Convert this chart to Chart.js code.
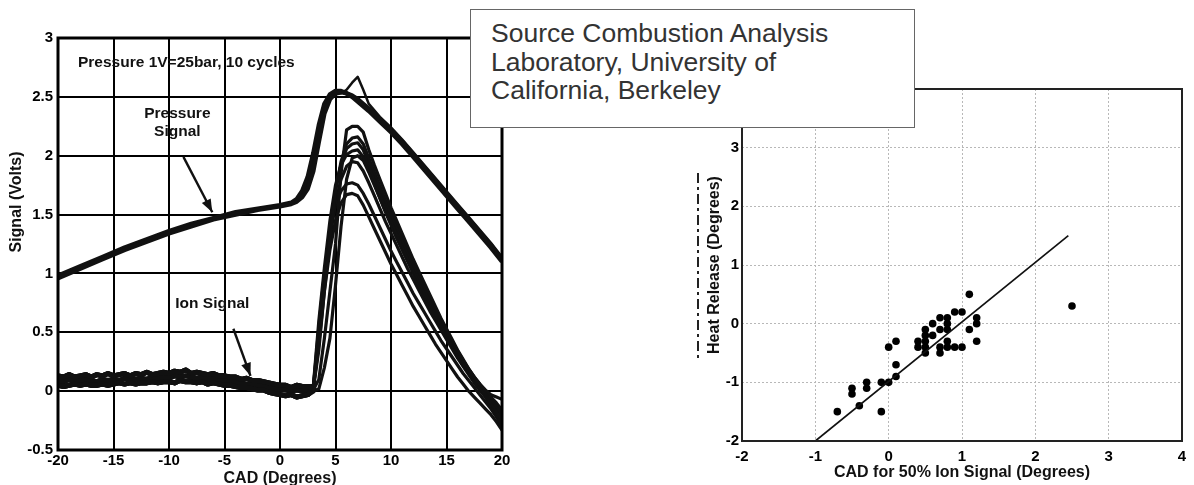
<!DOCTYPE html>
<html><head><meta charset="utf-8">
<script src="https://cdn.jsdelivr.net/npm/chart.js@4/dist/chart.umd.min.js"></script>
<style>
html,body{margin:0;padding:0;background:#fff;width:1194px;height:485px;overflow:hidden;}
#left{position:absolute;left:0;top:0;}
#right{position:absolute;left:660px;top:0;}
#note{position:absolute;left:470px;top:9px;width:445px;height:119px;box-sizing:border-box;border:1px solid #666;background:#fff;color:#333;font-family:'Liberation Sans',Arial,sans-serif;font-size:26.5px;line-height:28.5px;padding:9px 0 0 20px;z-index:5;white-space:nowrap;}
</style></head>
<body>
<canvas id="left" width="520" height="485"></canvas>
<canvas id="right" width="534" height="485"></canvas>
<div id="note">Source Combustion Analysis<br>Laboratory, University of<br>California, Berkeley</div>
<script>
// ---------- Left chart data (CAD degrees vs signal volts) ----------
const leftXTicks = [-20,-15,-10,-5,0,5,10,15,20];
const leftXTickLabels = ['-20','-15','-10','-5','0','5','10','15','20'];
const leftYTicks = [-0.5,0,0.5,1,1.5,2,2.5,3];
const leftYTickLabels = ['-0.5','0','0.5','1','1.5','2','2.5','3'];

const presX = [-20,-18,-16,-14,-12,-10,-8,-6,-4,-2,0,1,1.5,2,2.5,3,3.5,4,4.5,5,5.5,6,6.5,7,7.5,8,9,10,11,12,13,14,15,16,17,18,19,20];
const pressure1 = [0.96,1.04,1.12,1.2,1.27,1.34,1.4,1.46,1.5,1.54,1.57,1.59,1.61,1.65,1.72,1.87,2.12,2.36,2.48,2.53,2.54,2.53,2.51,2.48,2.44,2.4,2.31,2.22,2.12,2.01,1.9,1.79,1.68,1.57,1.46,1.35,1.24,1.12];
const pressure2 = [0.98,1.06,1.14,1.22,1.29,1.36,1.42,1.47,1.52,1.55,1.58,1.6,1.63,1.7,1.82,2.02,2.26,2.44,2.52,2.55,2.55,2.53,2.5,2.46,2.42,2.38,2.29,2.2,2.1,1.99,1.88,1.77,1.66,1.55,1.44,1.33,1.22,1.1];
const pressure3 = [0.97,1.05,1.13,1.21,1.28,1.35,1.41,1.47,1.51,1.55,1.58,1.6,1.62,1.67,1.76,1.94,2.2,2.4,2.49,2.52,2.53,2.56,2.62,2.67,2.56,2.44,2.33,2.24,2.14,2.03,1.92,1.81,1.7,1.59,1.48,1.37,1.26,1.14];

const baseX = [-20,-19.5,-19,-18.5,-18,-17.5,-17,-16.5,-16,-15.5,-15,-14.5,-14,-13.5,-13,-12.5,-12,-11.5,-11,-10.5,-10,-9.5,-9,-8.5,-8,-7.5,-7,-6.5,-6,-5.5,-5,-4.5,-4,-3.5,-3,-2.5,-2,-1.5,-1,-0.5,0,0.5,1,1.5,2,2.5];
const ionBaseA = [0.13,0.12,0.14,0.12,0.13,0.14,0.12,0.14,0.13,0.15,0.13,0.14,0.15,0.13,0.15,0.14,0.16,0.14,0.15,0.16,0.15,0.17,0.16,0.18,0.15,0.16,0.15,0.14,0.15,0.13,0.13,0.12,0.12,0.1,0.11,0.09,0.09,0.08,0.07,0.06,0.05,0.05,0.03,0.05,0.04,0.04];
const ionBaseB = [0.05,0.04,0.05,0.06,0.05,0.06,0.05,0.05,0.06,0.05,0.06,0.07,0.06,0.07,0.06,0.07,0.07,0.08,0.07,0.08,0.08,0.07,0.09,0.08,0.08,0.07,0.08,0.06,0.07,0.06,0.05,0.05,0.04,0.03,0.03,0.02,0.01,0.01,-0.01,-0.02,-0.03,-0.04,-0.03,-0.05,-0.04,-0.03];
const ionBaseC = [0.09,0.08,0.1,0.08,0.09,0.1,0.09,0.08,0.1,0.09,0.1,0.09,0.11,0.1,0.1,0.11,0.1,0.12,0.11,0.12,0.11,0.13,0.12,0.13,0.12,0.11,0.12,0.1,0.11,0.09,0.09,0.08,0.08,0.07,0.06,0.06,0.05,0.04,0.03,0.02,0.01,0.01,0.0,0.01,0.0,0.01];

const burnX = [3,3.5,4,4.5,5,5.5,6,6.5,7,7.5,8,8.5,9,9.5,10,10.5,11,11.5,12,12.5,13,13.5,14,14.5,15,15.5,16,16.5,17,17.5,18,18.5,19,19.5,20];
const ionBurn1 = [0.01,0.1,0.45,0.85,1.25,1.85,2.22,2.25,2.25,2.2,2.05,1.92,1.8,1.68,1.56,1.45,1.34,1.23,1.12,1.02,0.92,0.82,0.72,0.62,0.53,0.44,0.35,0.27,0.19,0.12,0.06,0.01,-0.03,-0.05,-0.07];
const ionBurn2 = [0.02,0.35,0.85,1.3,1.7,1.95,2.1,2.15,2.16,2.1,1.98,1.86,1.74,1.62,1.51,1.4,1.29,1.18,1.08,0.98,0.88,0.78,0.69,0.6,0.51,0.42,0.34,0.26,0.18,0.11,0.05,0.0,-0.05,-0.1,-0.16];
const ionBurn3 = [0.03,0.5,0.95,1.35,1.7,1.93,2.06,2.1,2.11,2.05,1.93,1.81,1.69,1.57,1.46,1.35,1.24,1.14,1.04,0.94,0.84,0.75,0.66,0.57,0.48,0.4,0.32,0.24,0.16,0.09,0.03,-0.02,-0.07,-0.13,-0.2];
const ionBurn4 = [0.04,0.6,1.05,1.45,1.75,1.92,2.01,2.04,2.05,1.99,1.88,1.76,1.64,1.52,1.41,1.3,1.2,1.1,1.0,0.9,0.81,0.72,0.63,0.54,0.46,0.38,0.3,0.22,0.15,0.08,0.02,-0.04,-0.1,-0.17,-0.25];
const ionBurn5 = [0.02,0.45,0.9,1.3,1.6,1.8,1.91,1.95,1.94,1.87,1.77,1.66,1.55,1.44,1.34,1.24,1.14,1.04,0.95,0.86,0.77,0.68,0.6,0.52,0.44,0.36,0.28,0.21,0.14,0.07,0.01,-0.05,-0.12,-0.2,-0.28];
const ionBurn6 = [0.03,0.55,1.0,1.35,1.58,1.7,1.76,1.77,1.75,1.68,1.59,1.49,1.39,1.29,1.19,1.1,1.01,0.92,0.83,0.75,0.67,0.59,0.51,0.43,0.36,0.29,0.22,0.15,0.09,0.03,-0.03,-0.09,-0.15,-0.22,-0.3];
const ionBurn7 = [0.02,0.4,0.85,1.2,1.45,1.6,1.67,1.68,1.66,1.58,1.48,1.38,1.28,1.18,1.08,0.99,0.9,0.81,0.72,0.64,0.56,0.48,0.4,0.33,0.26,0.19,0.12,0.06,0.0,-0.05,-0.1,-0.15,-0.2,-0.26,-0.33];
const ionBurn8 = [0.0,0.02,0.2,0.45,0.9,1.4,1.8,1.98,2.0,1.96,1.86,1.75,1.64,1.53,1.43,1.33,1.23,1.13,1.03,0.94,0.85,0.76,0.67,0.58,0.5,0.42,0.34,0.26,0.19,0.12,0.06,0.0,-0.06,-0.13,-0.21];

// ---------- Right chart data ----------
const rightXTicks = [-2,-1,0,1,2,3,4];
const rightXTickLabels = ['-2','-1','0','1','2','3','4'];
const rightYTicks = [-2,-1,0,1,2,3,4];
const rightYTickLabels = ['-2','-1','0','1','2','3','4'];
const ionCad50 = [-0.7,-0.5,-0.5,-0.4,-0.3,-0.3,-0.1,-0.1,0,0,0.1,0.1,0.1,0.4,0.4,0.5,0.5,0.5,0.5,0.5,0.6,0.6,0.7,0.7,0.7,0.7,0.8,0.8,0.8,0.8,0.8,0.9,0.9,1.0,1.0,1.1,1.1,1.2,1.2,1.2,2.5];
const heatRelease = [-1.5,-1.1,-1.2,-1.4,-1.0,-1.1,-1.0,-1.5,-1.0,-0.4,-0.3,-0.7,-0.9,-0.3,-0.4,-0.1,-0.2,-0.3,-0.4,-0.5,0.0,-0.2,0.1,-0.1,-0.4,-0.5,0.1,0.0,-0.1,-0.3,-0.4,0.2,-0.4,0.2,-0.4,0.5,-0.1,0.1,0.0,-0.3,0.3];
const fitX = [-1, 2.45];
const fitY = [-2, 1.5];

// ---------- build ----------
const FONT = "'Liberation Sans', Arial, sans-serif";
const INK = '#111';
const pts = (xs, ys) => xs.map((x, i) => ({x, y: ys[i]}));

const ionBases = [ionBaseA, ionBaseB, ionBaseC];
const ionBurns = [ionBurn1, ionBurn2, ionBurn3, ionBurn4, ionBurn5, ionBurn6, ionBurn7, ionBurn8];
const leftSets = [];
ionBurns.forEach((burn, i) => {
  leftSets.push({
    label: 'Ion ' + (i + 1),
    data: pts(baseX, ionBases[i % 3]).concat(pts(burnX, burn)),
    borderColor: INK, borderWidth: 3.2, pointRadius: 0, fill: false, tension: 0,
    borderJoinStyle: 'round', borderCapStyle: 'round',
    segment: {borderWidth: c => (c.p0.parsed.x < 3 ? 5 : 3.2)}
  });
});
[pressure1, pressure2, pressure3].forEach((p, i) => {
  leftSets.push({
    label: 'Pressure ' + (i + 1),
    data: pts(presX, p),
    borderColor: INK, borderWidth: i === 2 ? 2.5 : 4.5, pointRadius: 0, fill: false, tension: 0,
    borderJoinStyle: 'round'
  });
});

function arrow(ctx, x1, y1, x2, y2) {
  ctx.beginPath(); ctx.moveTo(x1, y1); ctx.lineTo(x2, y2); ctx.lineWidth = 2.4; ctx.stroke();
  const a = Math.atan2(y2 - y1, x2 - x1), L = 13, W = 5;
  ctx.beginPath(); ctx.moveTo(x2, y2);
  ctx.lineTo(x2 - L * Math.cos(a) + W * Math.sin(a), y2 - L * Math.sin(a) - W * Math.cos(a));
  ctx.lineTo(x2 - L * Math.cos(a) - W * Math.sin(a), y2 - L * Math.sin(a) + W * Math.cos(a));
  ctx.closePath(); ctx.fill();
}

const leftNotes = {
  id: 'leftNotes',
  afterDraw(chart) {
    const {ctx, chartArea: a, scales: {x, y}} = chart;
    const P = (vx, vy) => [x.getPixelForValue(vx), y.getPixelForValue(vy)];
    ctx.save();
    ctx.strokeStyle = '#000'; ctx.lineWidth = 3;
    ctx.strokeRect(a.left, a.top, a.right - a.left, a.bottom - a.top);
    ctx.fillStyle = INK; ctx.strokeStyle = INK;
    ctx.font = 'bold 15.5px ' + FONT; ctx.textBaseline = 'middle';
    ctx.textAlign = 'left';
    ctx.fillText('Pressure 1V=25bar, 10 cycles', ...P(-18.2, 2.79));
    ctx.textAlign = 'center';
    ctx.fillText('Pressure', ...P(-9.25, 2.36));
    ctx.fillText('Signal', ...P(-9.25, 2.2));
    ctx.fillText('Ion Signal', ...P(-6.1, 0.74));
    arrow(ctx, ...P(-8.7, 1.99), ...P(-6.1, 1.52));
    arrow(ctx, ...P(-4.2, 0.53), ...P(-2.66, 0.13));
    // rotated y-axis title
    ctx.translate(17, 202); ctx.rotate(-Math.PI / 2);
    ctx.font = 'bold 16px ' + FONT;
    ctx.fillText('Signal (Volts)', 0, 0);
    ctx.restore();
  }
};

new Chart(document.getElementById('left'), {
  type: 'line',
  data: {datasets: leftSets},
  options: {
    responsive: false, animation: false, devicePixelRatio: 1,
    layout: {padding: {left: 0, right: 18, top: 38, bottom: 0}},
    plugins: {legend: {display: false}, tooltip: {enabled: false}},
    scales: {
      x: {
        type: 'linear', min: -20, max: 20,
        afterBuildTicks: s => { s.ticks = leftXTicks.map(v => ({value: v})); },
        afterFit: s => { s.height = 35; },
        grid: {color: '#000', lineWidth: 2, drawTicks: false},
        border: {display: false},
        ticks: {autoSkip: false, maxRotation: 0, padding: 2, color: '#000',
                font: {family: FONT, size: 15, weight: 'bold'},
                callback: (v, i) => leftXTickLabels[i]},
        title: {display: true, text: 'CAD (Degrees)', color: INK,
                font: {family: FONT, size: 16, weight: 'bold'}, padding: {top: 0, bottom: -3}}
      },
      y: {
        type: 'linear', min: -0.5, max: 3,
        afterBuildTicks: s => { s.ticks = leftYTicks.map(v => ({value: v})); },
        afterFit: s => { s.width = 58; },
        grid: {color: '#000', lineWidth: 2, drawTicks: false},
        border: {display: false},
        ticks: {autoSkip: false, padding: 5, color: '#000',
                font: {family: FONT, size: 15, weight: 'bold'},
                callback: (v, i) => leftYTickLabels[i]}
      }
    }
  },
  plugins: [leftNotes]
});

const rightNotes = {
  id: 'rightNotes',
  afterDraw(chart) {
    const {ctx, chartArea: a} = chart;
    ctx.save();
    ctx.strokeStyle = '#222'; ctx.lineWidth = 2;
    ctx.strokeRect(a.left, a.top, a.right - a.left, a.bottom - a.top);
    ctx.setLineDash([10, 4, 3, 4]);
    ctx.beginPath(); ctx.moveTo(a.left - 44, 173); ctx.lineTo(a.left - 44, 360); ctx.stroke();
    ctx.restore();
  }
};

new Chart(document.getElementById('right'), {
  type: 'scatter',
  data: {datasets: [
    {label: 'Fit', type: 'line', data: pts(fitX, fitY), borderColor: INK, borderWidth: 1.7,
     pointRadius: 0, fill: false, showLine: true},
    {label: 'Cycles', data: pts(ionCad50, heatRelease), backgroundColor: '#000',
     borderColor: '#000', pointRadius: 3.8, borderWidth: 0}
  ]},
  options: {
    responsive: false, animation: false, devicePixelRatio: 1,
    layout: {padding: {left: 0, right: 12, top: 89, bottom: 0}},
    plugins: {legend: {display: false}, tooltip: {enabled: false}},
    scales: {
      x: {
        type: 'linear', min: -2, max: 4,
        afterBuildTicks: s => { s.ticks = rightXTicks.map(v => ({value: v})); },
        afterFit: s => { s.height = 44; },
        grid: {color: '#b8b8b8', lineWidth: 1, drawTicks: false},
        border: {display: false, dash: [2, 2]},
        ticks: {autoSkip: false, maxRotation: 0, padding: 7, color: '#000',
                font: {family: FONT, size: 15, weight: 'bold'},
                callback: (v, i) => rightXTickLabels[i]},
        title: {display: true, text: 'CAD for 50% Ion Signal (Degrees)', color: INK,
                font: {family: FONT, size: 16, weight: 'bold'}, padding: {top: 0, bottom: 3}}
      },
      y: {
        type: 'linear', min: -2, max: 4,
        afterBuildTicks: s => { s.ticks = rightYTicks.map(v => ({value: v})); },
        afterFit: s => { s.width = 82; },
        grid: {color: '#b8b8b8', lineWidth: 1, drawTicks: false},
        border: {display: false, dash: [2, 2]},
        ticks: {autoSkip: false, padding: 3, color: '#000',
                font: {family: FONT, size: 15, weight: 'bold'},
                callback: (v, i) => rightYTickLabels[i]},
        title: {display: true, text: 'Heat Release (Degrees)', color: INK,
                font: {family: FONT, size: 16, weight: 'bold'}, padding: {top: 45, bottom: 0}}
      }
    }
  },
  plugins: [rightNotes]
});
</script>
</body></html>
